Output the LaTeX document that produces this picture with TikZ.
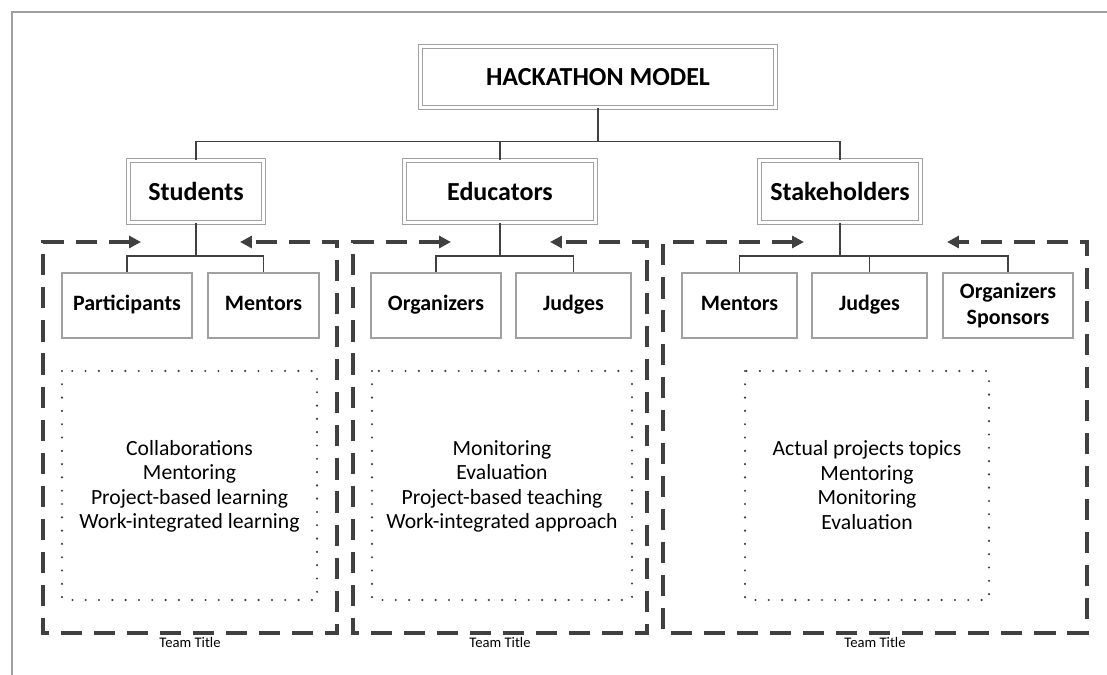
\documentclass[tikz,border=0pt]{standalone}
\usepackage{fontspec}
\setmainfont{Carlito}
\usetikzlibrary{arrows.meta}
\definecolor{linegray}{HTML}{404040}
\definecolor{boxgray}{HTML}{A0A0A0}
\definecolor{edgegray}{HTML}{A0A0A0}
\tikzset{
  topbox/.style={draw=boxgray, double=white, double distance=2pt, line width=0.8pt,
    font=\fontsize{18.5}{22}\selectfont\bfseries, minimum height=1.54cm, inner sep=0pt},
  subbox/.style={draw=boxgray, line width=0.8pt, align=center, inner sep=0pt,
    font=\fontsize{15.6}{19}\selectfont\bfseries, minimum height=1.625cm},
  onerow/.style={text height=1.85ex, text depth=0.4ex},
  link/.style={draw=linegray, line width=1.1pt},
  teamframe/.style={draw=linegray, line width=2.3pt, dash pattern=on 15pt off 8.5pt,
    {Triangle[length=8.5pt,width=8.5pt]}-{Triangle[length=8.5pt,width=8.5pt]}},
  dotbox/.style={draw=linegray, line width=1.7pt, line cap=round, dash pattern=on 0pt off 9.46pt},
  listtext/.style={align=center, font=\fontsize{15.4}{17.4}\selectfont},
  teamtext/.style={font=\fontsize{10.4}{12}\selectfont}
}
\begin{document}
\begin{tikzpicture}[x=0.025cm, y=-0.025cm]
\useasboundingbox (0,0) rectangle (1107,675);
\draw[edgegray, line width=0.8pt] (1107,12) -- (12,12) -- (12,675);

% team frames, arrows on top
\foreach \l/\r/\a/\b [count=\i] in {43/337/141/240, 353/647/451/550, 663/1087/804/947} {
  \draw[teamframe, line join=miter] (\a,242) -- (\l,242) -- (\l,633) -- (\r,633) -- (\r,242) -- (\b,242);
  \node[teamtext] (team\i) at ({(\l+\r)/2},642) {Team Title};
}
\foreach \l/\r in {62/317, 372/632, 745/989} {\draw[dotbox] (\l,371) rectangle (\r,600);}

\node[topbox, minimum width=8.88cm] (title) at (598,77) {HACKATHON MODEL};
\node[topbox, minimum width=3.38cm] (stud) at (196,191.5) {Students};
\node[topbox, minimum width=4.78cm] (educ) at (500,191.5) {Educators};
\node[topbox, minimum width=4.03cm] (stake) at (840,191.5) {Stakeholders};

\node[subbox, onerow, minimum width=3.25cm] (part) at (127,305.5) {Participants};
\node[subbox, onerow, minimum width=2.775cm] (smen) at (263.5,305.5) {Mentors};
\node[subbox, onerow, minimum width=3.25cm] (org) at (436,305.5) {Organizers};
\node[subbox, onerow, minimum width=2.875cm] (ejud) at (573.5,305.5) {Judges};
\node[subbox, onerow, minimum width=2.875cm] (kmen) at (739.5,305.5) {Mentors};
\node[subbox, onerow, minimum width=2.875cm] (kjud) at (869.5,305.5) {Judges};
\node[subbox, minimum width=3.25cm] (kspon) at (1008,305.5) {\raisebox{-2.5pt}{\parbox{3cm}{\centering Organizers\\Sponsors}}};

\node[listtext] (slist) at (189.5,486.5) {Collaborations\\Mentoring\\Project-based learning\\Work-integrated learning};
\node[listtext] (elist) at (502,486.5) {Monitoring\\Evaluation\\Project-based teaching\\Work-integrated approach};
\node[listtext] (klist) at (867,485) {Actual projects topics\\Mentoring\\Monitoring\\Evaluation};

\foreach \t in {stud,educ,stake} {\draw[link] (title.south) -- ++(0,33) -| (\t.north);}
\foreach \s in {part,smen} {\draw[link] (stud.south) -- ++(0,33) -| (\s.north);}
\foreach \s in {org,ejud} {\draw[link] (educ.south) -- ++(0,33) -| (\s.north);}
\foreach \s in {kmen,kjud,kspon} {\draw[link] (stake.south) -- ++(0,33) -| (\s.north);}
\end{tikzpicture}
\end{document}
